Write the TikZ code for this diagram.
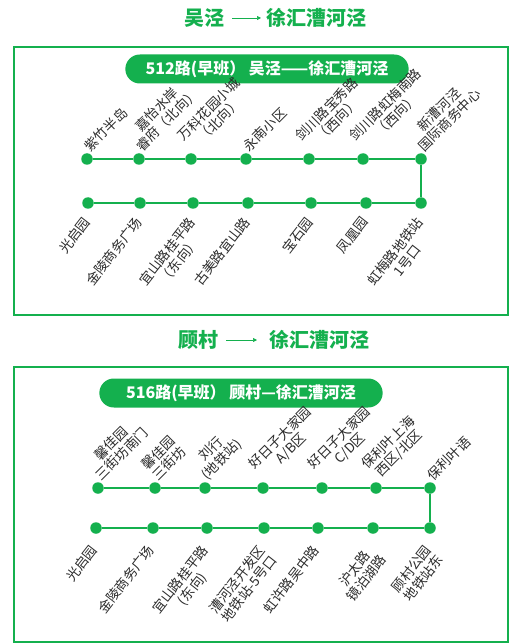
\documentclass[tikz,border=0pt]{standalone}
\usepackage{fontspec}
\setmainfont{Noto Sans CJK SC}
\usepackage{tikz}
\usetikzlibrary{arrows.meta,positioning,shapes.misc}
\definecolor{routegreen}{HTML}{14B04E}
\definecolor{labelgray}{HTML}{2B2B2B}
\tikzset{
  stop/.style={circle,fill=routegreen,inner sep=0pt,minimum size=11.5pt},
  routeline/.style={draw=routegreen,line width=2.3pt},
  upname/.style={rotate=45,anchor=south west,align=center,inner sep=1pt,
    font=\fontsize{13.5}{15}\selectfont,text=labelgray},
  downname/.style={rotate=52,anchor=north east,align=center,inner sep=1pt,
    font=\fontsize{13.5}{15}\selectfont,text=labelgray},
  routepill/.style={rounded rectangle,fill=routegreen,text=white,
    minimum width=290pt,minimum height=29pt,font=\bfseries\fontsize{16}{16}\selectfont},
  heading/.style={text=routegreen,inner sep=0pt,font=\bfseries\fontsize{20}{20}\selectfont},
  headarrow/.style={-{Triangle[length=4pt,width=4pt]},draw=routegreen,line width=0.7pt},
  frame/.style={draw=routegreen,line width=1.3pt}
}

\begin{document}
\begin{tikzpicture}[x=1pt,y=-1pt]
\useasboundingbox (0,0) rectangle (529,644);

\node[heading] (from1) at (204,18) {吴泾};
\node[heading,anchor=west] (to1) at (266,18) {徐汇漕河泾};
\draw[headarrow,shorten <=8pt,shorten >=5pt] (from1) -- (to1);
\draw[frame] (14,47) rectangle (508,315);
\node[routepill] (pill1) at (267,69) {512路(早班） 吴泾——徐汇漕河泾};

\foreach \n/\x/\name in {1/87/紫竹半岛, 2/139/{嘉怡水岸\\睿府（北向）},
    3/191/{万科花园小城\\（北向）}, 4/246/永南小区, 5/309/{剑川路宝秀路\\（西向）},
    6/363/{剑川路虹梅南路\\（西向）}, 7/421/{新漕河泾\\国际商务中心}} {
  \node[stop] (a\n) at (\x,159) {};
  \node[upname] (la\n) at (a\n.north east) {\name};
}
\foreach \n/\x/\name in {1/88/光启园, 2/140/金陵商务广场, 3/193/{宜山路桂平路\\（东向）},
    4/248/古美路宜山路, 5/311/宝石园, 6/366/凤凰园, 7/421/{虹梅路地铁站\\1号口}} {
  \node[stop] (b\n) at (\x,203) {};
  \node[downname] (lb\n) at ([shift={(-6,5)}]b\n.south) {\name};
}
\foreach \n [count=\m from 2] in {1,...,6} {
  \draw[routeline] (a\n) -- (a\m);
  \draw[routeline] (b\n) -- (b\m);
}
\draw[routeline] (a7) -- (b7);

\node[heading] (from2) at (198,340) {顾村};
\node[heading,anchor=west] (to2) at (269,340) {徐汇漕河泾};
\draw[headarrow,shorten <=8pt,shorten >=12pt] (from2) -- (to2);
\draw[frame] (14,367) rectangle (508,642);
\node[routepill] (pill2) at (241,393) {516路(早班） 顾村—徐汇漕河泾};

\foreach \n/\x/\name in {1/98/{馨佳园\\三街坊南门}, 2/155/{馨佳园\\三街坊},
    3/205/{刘行\\(地铁站)}, 4/263/{好日子大家园\\A/B区}, 5/322/{好日子大家园\\C/D区},
    6/376/{保利叶上海\\西区/北区}, 7/430/保利叶语} {
  \node[stop] (c\n) at (\x,488) {};
  \node[upname] (lc\n) at (c\n.north east) {\name};
}
\foreach \n/\x/\name in {1/96/光启园, 2/153/金陵商务广场, 3/207/{宜山路桂平路\\(东向)},
    4/264/{漕河泾开发区\\地铁站-5号口}, 5/318/虹许路吴中路, 6/373/{沪太路\\镜泊湖路},
    7/430/{顾村公园\\地铁站东}} {
  \node[stop] (d\n) at (\x,528) {};
  \node[downname] (ld\n) at ([shift={(-7,8)}]d\n.south) {\name};
}
\foreach \n [count=\m from 2] in {1,...,6} {
  \draw[routeline] (c\n) -- (c\m);
  \draw[routeline] (d\n) -- (d\m);
}
\draw[routeline] (c7) -- (d7);
\end{tikzpicture}
\end{document}
